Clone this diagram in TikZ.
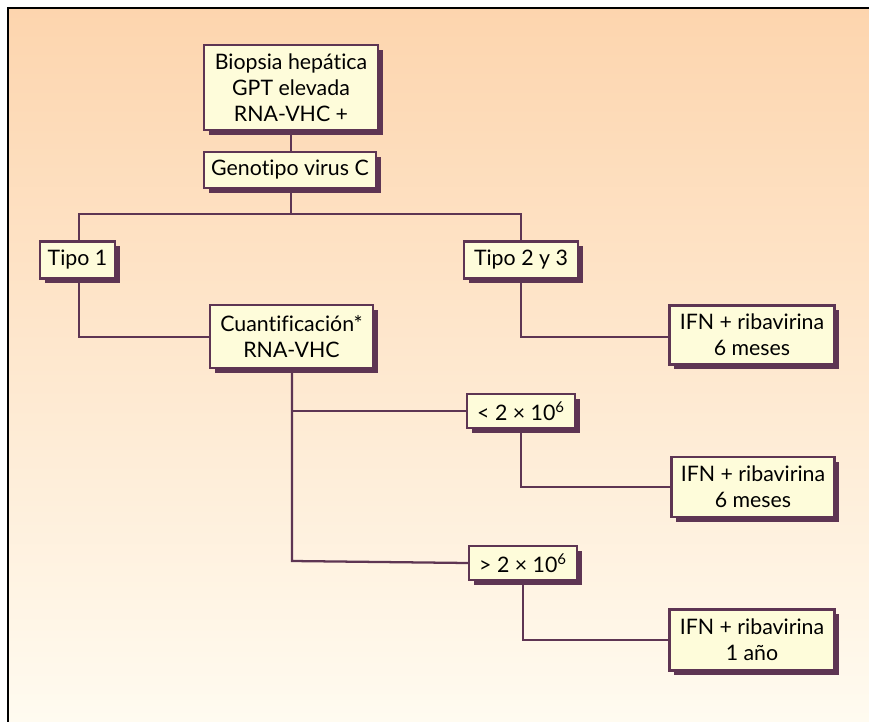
\documentclass[tikz,border=0pt]{standalone}
\usepackage{fontspec}
\setmainfont{Lato}[Ligatures={NoCommon}]
\usetikzlibrary{shadows}
\definecolor{lineC}{HTML}{5E3553}
\definecolor{boxC}{HTML}{FEFCDA}
\definecolor{bgTop}{HTML}{FDD5AE}
\definecolor{bgBot}{HTML}{FFFBF0}
\tikzset{
  box/.style={draw=lineC, line width=1.6pt, fill=boxC, align=center, inner sep=0pt,
    font=\fontsize{16pt}{19.5pt}\selectfont,
    drop shadow={shadow xshift=3.4pt, shadow yshift=-3.4pt, fill=lineC, opacity=1}},
  conn/.style={draw=lineC, line width=1.7pt}
}
\begin{document}
\begin{tikzpicture}[x=0.75pt,y=-0.75pt]
\useasboundingbox (0,0) rectangle (869,722);
\fill[white] (0,0) rectangle (869,722);
\shade[top color=bgTop, bottom color=bgBot] (8,8) rectangle (869,722);
\draw[black, line width=1.5pt] (8,722) -- (8,8) -- (869,8);

\node[box, minimum width=174*0.75pt, minimum height=85*0.75pt] (b1) at (291,87.5) {Biopsia hepática\\GPT elevada\\RNA-VHC +};
\node[box, minimum width=172*0.75pt, minimum height=36*0.75pt] (b2) at (290,170) {Genotipo virus C};
\node[box, minimum width=75*0.75pt, minimum height=37*0.75pt] (t1) at (77.5,260) {Tipo 1};
\node[box, minimum width=114*0.75pt, minimum height=37*0.75pt] (t2) at (521,260) {Tipo 2 y 3};
\node[box, minimum width=163*0.75pt, minimum height=63*0.75pt] (cq) at (291.5,336.5) {Cuantificación*\\RNA-VHC};
\node[box, minimum width=165*0.75pt, minimum height=59*0.75pt] (f1) at (752,335) {IFN + ribavirina\\6 meses};
\node[box, minimum width=108*0.75pt, minimum height=34*0.75pt] (lt) at (521,411) {< 2 × 10\textsuperscript{6}};
\node[box, minimum width=108*0.75pt, minimum height=34*0.75pt] (gt) at (523,563) {> 2 × 10\textsuperscript{6}};
\node[box, minimum width=163*0.75pt, minimum height=60*0.75pt] (f2) at (753,487) {IFN + ribavirina\\6 meses};
\node[box, minimum width=165*0.75pt, minimum height=61*0.75pt] (f3) at (752,640) {IFN + ribavirina\\1 año};

\coordinate (j) at (291,214);
\draw[conn] (b1.south -| 291,0) -- (b2.north -| 291,0);
\draw[conn] (b2.south -| 291,0) -- (j);
\draw[conn] (t1.north -| 79,0) -- (79,214) -- (521,214) -- (t2.north);
\draw[conn] (t1.south -| 79,0) -- (79,337) -- (cq.west |- 0,337);
\draw[conn] (t2.south) -- (521,337) -- (f1.west |- 0,337);
\draw[conn] (cq.south -| 292,0) -- (292,561) -- (gt.west |- 0,563);
\draw[conn] (292,411) -- (lt.west);
\draw[conn] (lt.south) -- (521,487) -- (f2.west);
\draw[conn] (gt.south) -- (523,640) -- (f3.west);
\end{tikzpicture}
\end{document}
